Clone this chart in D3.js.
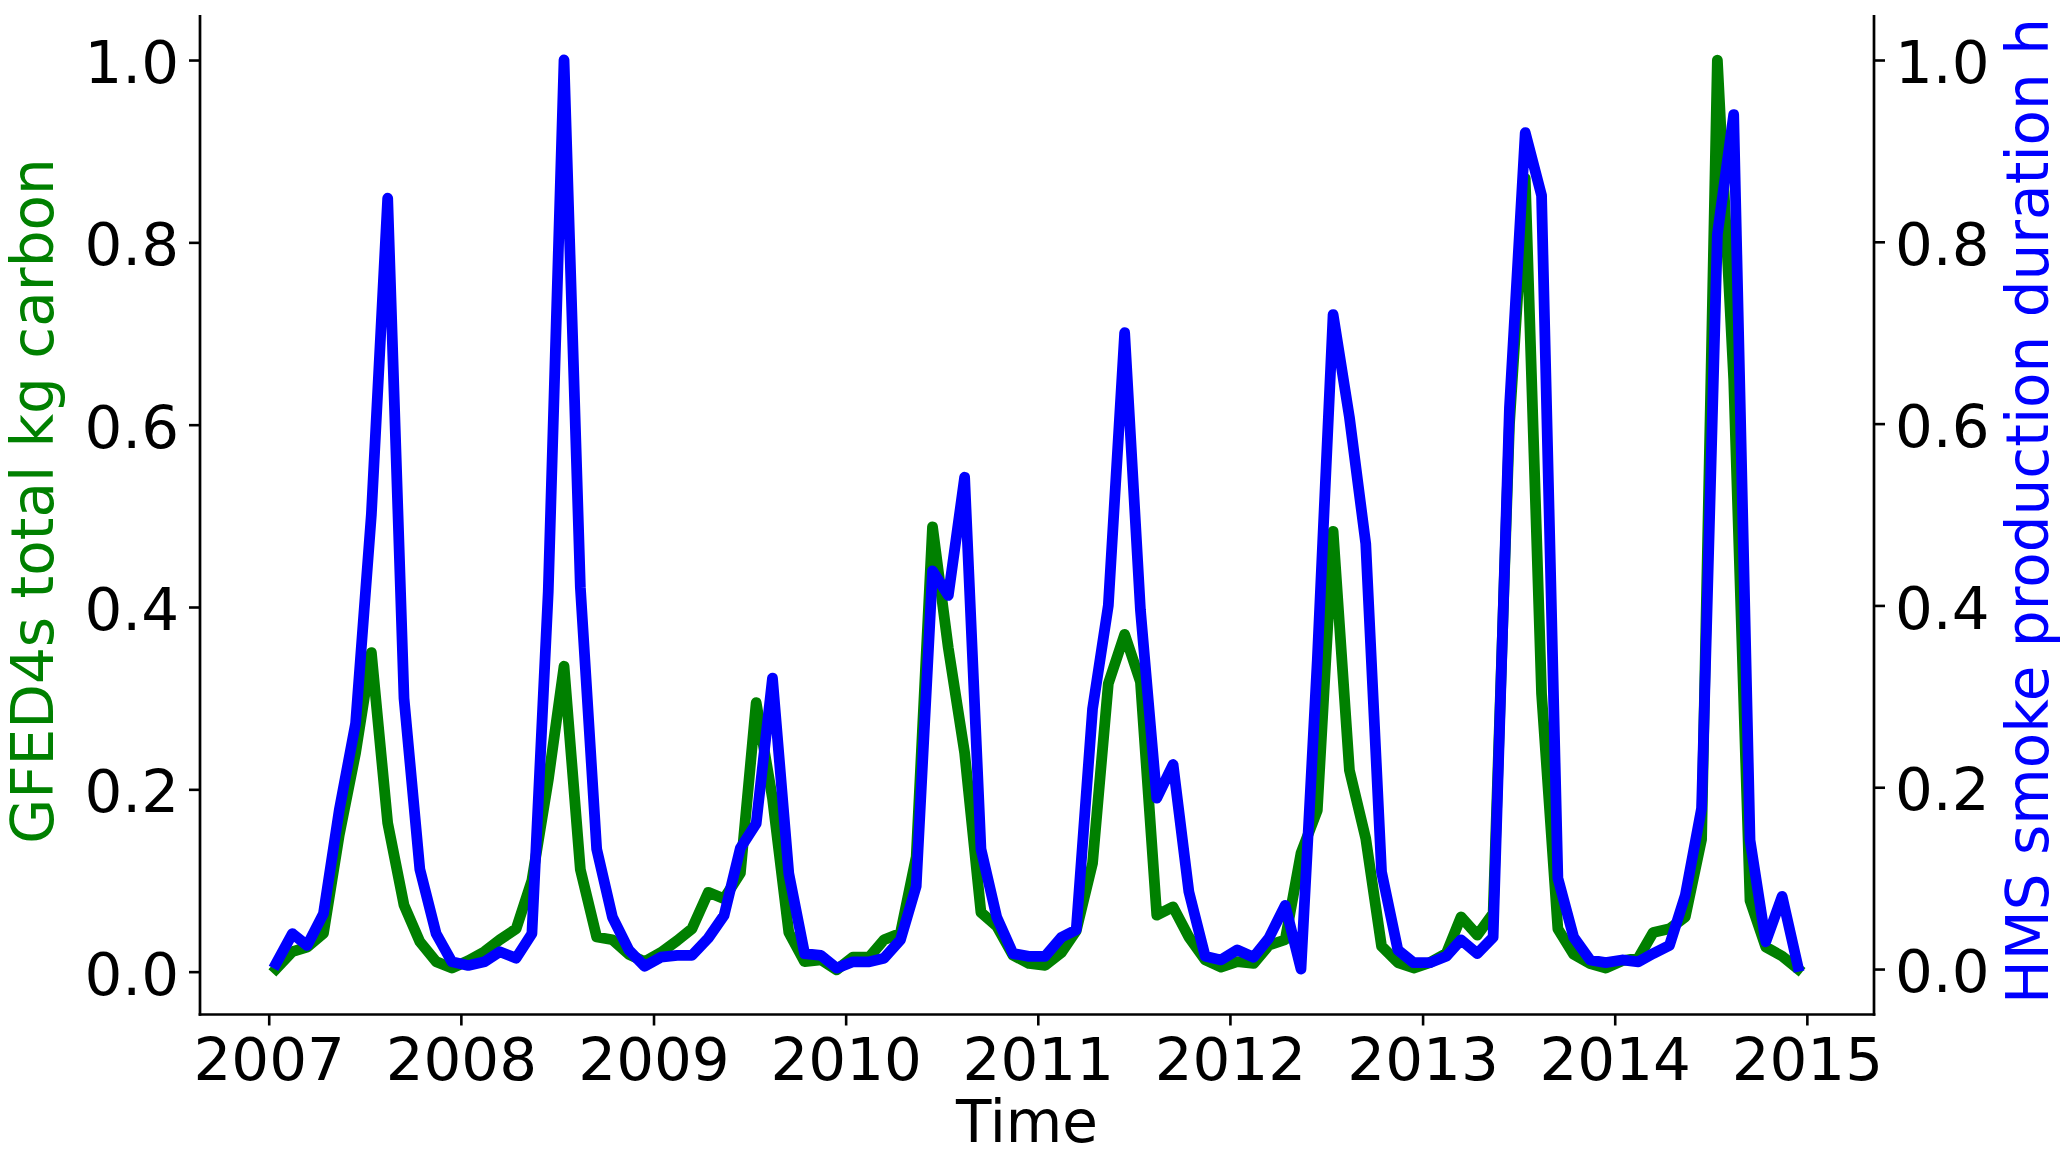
<!DOCTYPE html>
<html>
<head>
<meta charset="utf-8">
<script src="https://cdn.jsdelivr.net/npm/d3@7"></script>
<style>
  html, body { margin: 0; padding: 0; background: #ffffff; }
  svg { display: block; }
  text { font-family: "DejaVu Sans", sans-serif; }
</style>
</head>
<body>
<svg id="chart" width="2066" height="1157"></svg>
<script>
// ---------------- data ----------------
const startYear = 2007;
const yearTicks = [2007, 2008, 2009, 2010, 2011, 2012, 2013, 2014, 2015];
const yTickValues = [0.0, 0.2, 0.4, 0.6, 0.8, 1.0];

const leftLabel = "GFED4s total kg carbon";
const rightLabel = "HMS smoke production duration h";
const xLabel = "Time";

// GFED4s total kg carbon (normalised), monthly Jan 2007 - Dec 2014
const gfed = [
  0.003, 0.022, 0.027, 0.042, 0.150, 0.240, 0.350, 0.163, 0.073, 0.033, 0.011, 0.004,
  0.012, 0.022, 0.035, 0.047, 0.100, 0.210, 0.335, 0.112, 0.038, 0.035, 0.019, 0.011,
  0.021, 0.034, 0.047, 0.087, 0.080, 0.108, 0.295, 0.190, 0.043, 0.011, 0.013, 0.002,
  0.016, 0.016, 0.035, 0.042, 0.126, 0.488, 0.355, 0.240, 0.065, 0.050, 0.018, 0.009,
  0.007, 0.021, 0.045, 0.119, 0.316, 0.370, 0.318, 0.062, 0.071, 0.038, 0.013, 0.005,
  0.011, 0.009, 0.029, 0.035, 0.130, 0.177, 0.483, 0.221, 0.146, 0.028, 0.010, 0.004,
  0.010, 0.020, 0.060, 0.040, 0.064, 0.600, 0.870, 0.305, 0.047, 0.019, 0.009, 0.004,
  0.012, 0.015, 0.043, 0.047, 0.060, 0.145, 1.000, 0.650, 0.078, 0.027, 0.017, 0.003
];

// HMS smoke production duration h (normalised)
const hms = [
  0.006, 0.039, 0.026, 0.061, 0.175, 0.270, 0.500, 0.848, 0.298, 0.110, 0.039, 0.008,
  0.004, 0.008, 0.019, 0.012, 0.039, 0.415, 1.000, 0.420, 0.132, 0.057, 0.021, 0.003,
  0.013, 0.015, 0.015, 0.034, 0.059, 0.133, 0.160, 0.320, 0.105, 0.017, 0.015, 0.001,
  0.008, 0.008, 0.012, 0.032, 0.091, 0.438, 0.411, 0.541, 0.132, 0.057, 0.017, 0.014,
  0.014, 0.035, 0.043, 0.286, 0.400, 0.700, 0.395, 0.188, 0.225, 0.085, 0.014, 0.010,
  0.021, 0.013, 0.034, 0.070, 0.000, 0.340, 0.720, 0.607, 0.468, 0.107, 0.021, 0.007,
  0.007, 0.014, 0.032, 0.017, 0.035, 0.617, 0.920, 0.851, 0.100, 0.035, 0.010, 0.007,
  0.010, 0.008, 0.017, 0.026, 0.081, 0.177, 0.808, 0.940, 0.142, 0.030, 0.080, 0.003
];

// ---------------- layout ----------------
const W = 2066, H = 1157;
const plot = { left: 200, right: 1874, top: 15, bottom: 1014.5 };
const FONT = 58, TICKFONT = 59.5;
const GREEN = "#008000", BLUE = "#0000ff";
const LW = 10.8;

const dates = gfed.map((_, i) => new Date(Date.UTC(startYear, i, 15)));

const t0 = +dates[0], t1 = +dates[dates.length - 1];
const pad = (t1 - t0) * 0.05;
const x = d3.scaleUtc().domain([new Date(t0 - pad), new Date(t1 + pad)]).range([plot.left, plot.right]);
const yL = d3.scaleLinear().domain([-0.047, 1.0494]).range([plot.bottom, plot.top]);
const yR = d3.scaleLinear().domain([-0.050, 1.0495]).range([plot.bottom, plot.top]);

const svg = d3.select("#chart");
svg.append("rect").attr("width", W).attr("height", H).attr("fill", "#fff");

// lines
const lineL = d3.line().x((d, i) => x(dates[i])).y(d => yL(d));
const lineR = d3.line().x((d, i) => x(dates[i])).y(d => yR(d));

svg.append("path").datum(gfed)
  .attr("d", lineL).attr("fill", "none").attr("stroke", GREEN)
  .attr("stroke-width", LW).attr("stroke-linejoin", "round").attr("stroke-linecap", "square");

svg.append("path").datum(hms)
  .attr("d", lineR).attr("fill", "none").attr("stroke", BLUE)
  .attr("stroke-width", LW).attr("stroke-linejoin", "round").attr("stroke-linecap", "square");

// axes
const fmt = d3.format(".1f");
const axisL = d3.axisLeft(yL).tickValues(yTickValues).tickFormat(fmt).tickSize(11).tickPadding(10);
const axisR = d3.axisRight(yR).tickValues(yTickValues).tickFormat(fmt).tickSize(11).tickPadding(10);
const axisB = d3.axisBottom(x).tickValues(yearTicks.map(y => new Date(Date.UTC(y, 0, 1))))
  .tickFormat(d3.utcFormat("%Y")).tickSize(11).tickPadding(11);

function styleAxis(g) {
  g.select(".domain").remove();
  g.selectAll(".tick line").attr("stroke", "#000").attr("stroke-width", 2.6);
  g.selectAll(".tick text").attr("fill", "#000").attr("font-size", TICKFONT)
    .attr("font-family", "DejaVu Sans");
}

const gL = svg.append("g").attr("transform", `translate(${plot.left},0)`).call(axisL).call(styleAxis);
gL.selectAll(".tick text").attr("dy", "0.38em");
const gR = svg.append("g").attr("transform", `translate(${plot.right},0)`).call(axisR).call(styleAxis);
gR.selectAll(".tick text").attr("dy", "0.38em");
const gB = svg.append("g").attr("transform", `translate(0,${plot.bottom})`).call(axisB).call(styleAxis);
gB.selectAll(".tick text").attr("dy", null).attr("y", 65);

// spines (left, right, bottom)
const sp = svg.append("g").attr("stroke", "#000").attr("stroke-width", 2.7).attr("fill", "none");
sp.append("line").attr("x1", plot.left).attr("x2", plot.left).attr("y1", plot.top).attr("y2", plot.bottom + 1.35);
sp.append("line").attr("x1", plot.right).attr("x2", plot.right).attr("y1", plot.top).attr("y2", plot.bottom + 1.35);
sp.append("line").attr("x1", plot.left - 1.35).attr("x2", plot.right + 1.35).attr("y1", plot.bottom).attr("y2", plot.bottom);

// axis labels
svg.append("text").text(xLabel)
  .attr("x", 1027).attr("y", 1142)
  .attr("text-anchor", "middle").attr("font-size", FONT).attr("fill", "#000");

svg.append("text").text(leftLabel)
  .attr("transform", `translate(53,501) rotate(-90)`)
  .attr("text-anchor", "middle").attr("font-size", FONT).attr("fill", GREEN);

svg.append("text").text(rightLabel)
  .attr("transform", `translate(2048,511) rotate(-90)`)
  .attr("text-anchor", "middle").attr("font-size", FONT).attr("fill", BLUE);
</script>
</body>
</html>
